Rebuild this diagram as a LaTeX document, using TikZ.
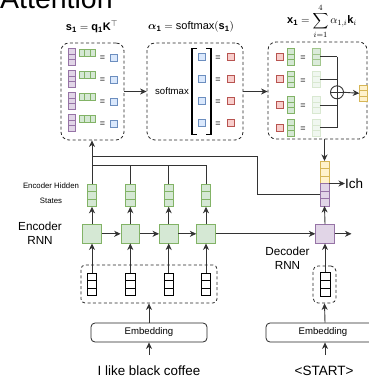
\documentclass[tikz,border=0pt]{standalone}
\usepackage{fontspec}
\setmainfont{Liberation Sans}
\usepackage{amsmath,amssymb,bm}
\usetikzlibrary{arrows.meta,calc}
\definecolor{grF}{HTML}{D5E8D4}\definecolor{grS}{HTML}{82B366}
\definecolor{puF}{HTML}{E1D5E7}\definecolor{puS}{HTML}{9673A6}
\definecolor{blF}{HTML}{DAE8FC}\definecolor{blS}{HTML}{6C8EBF}
\definecolor{reF}{HTML}{F8CECC}\definecolor{reS}{HTML}{B85450}
\definecolor{yeF}{HTML}{FFF2CC}\definecolor{yeS}{HTML}{D6B656}
\definecolor{lnC}{HTML}{333333}
% vertical vector: name, center, width, cell height, style
\newcommand\VV[5]{%
  \node[#5, inner sep=0pt, outer sep=0pt, minimum width=#3pt, minimum height=3*#4pt] (#1) at (#2) {};
  \draw[#5] ([yshift=-#4pt]#1.north west) -- ([yshift=-#4pt]#1.north east)
            ([yshift=#4pt]#1.south west) -- ([yshift=#4pt]#1.south east);}
% horizontal vector: name, center, cell width, height, style
\newcommand\HV[5]{%
  \node[#5, inner sep=0pt, outer sep=0pt, minimum width=3*#3pt, minimum height=#4pt] (#1) at (#2) {};
  \draw[#5] ([xshift=#3pt]#1.north west) -- ([xshift=#3pt]#1.south west)
            ([xshift=-#3pt]#1.north east) -- ([xshift=-#3pt]#1.south east);}
\tikzset{
  gv/.style={draw=grS, fill=grF, line width=0.8pt},
  gvfade/.style={draw=grS!30, fill=grF!35, line width=0.8pt},
  gvmid/.style={draw=grS!75, fill=grF!85, line width=0.8pt},
  pv/.style={draw=puS, fill=puF, line width=0.8pt},
  yv/.style={draw=yeS, fill=yeF, line width=0.8pt},
  wv/.style={draw=black, fill=white, line width=0.8pt},
  bsq/.style={draw=blS, fill=blF, line width=0.8pt, minimum size=7pt, inner sep=0pt},
  rsq/.style={draw=reS, fill=reF, line width=0.8pt, minimum size=7pt, inner sep=0pt},
  eqs/.style={font=\fontsize{9}{9}\selectfont, inner sep=0pt},
  dbox/.style={draw=black!85, dash pattern=on 3pt off 2.4pt, line width=0.8pt, rounded corners=8pt, inner sep=0pt},
  ebox/.style={draw=black!85, line width=0.8pt, rounded corners=4pt, inner sep=0pt, font=\fontsize{9.6}{10}\selectfont},
  ln/.style={draw=lnC, line width=0.9pt},
  arr/.style={ln, -{Stealth[length=6.5pt,width=6pt,inset=2pt]}},
  gbox/.style={draw=grS, fill=grF, line width=0.8pt, minimum size=18.5pt, inner sep=0pt},
  pbox/.style={draw=puS, fill=puF, line width=0.8pt, minimum size=18.5pt, inner sep=0pt},
}
\begin{document}
\begin{tikzpicture}[x=1pt,y=-1pt]
\useasboundingbox (0,0) rectangle (368,380);
% title
\node[anchor=base west, inner sep=0pt, font=\fontsize{28.5}{30}\selectfont] (title) at (0,9) {Attention};
% attention boxes
\node[dbox, minimum width=63pt, minimum height=97pt] (box1) at (92.5,91.5) {};
\node[dbox, minimum width=96pt, minimum height=97pt] (box2) at (195,91.5) {};
\node[dbox, minimum width=99pt, minimum height=97pt] (box3) at (317.5,90.5) {};
\node[font=\fontsize{11}{12}\selectfont] (lab1) at (92,27) {$\mathbf{s_1} = \mathbf{q_1}\mathbf{K}^{\top}$};
\node[font=\fontsize{11}{12}\selectfont] (lab2) at (191,27) {$\boldsymbol{\alpha}_{\mathbf{1}} = \mathrm{softmax}(\mathbf{s_1})$};
\node[font=\fontsize{11}{12}\selectfont] (lab3) at (322,21) {$\mathbf{x_1} = \displaystyle\sum_{i=1}^{4} \alpha_{1,i}\mathbf{k}_i$};
% box 1 rows
\foreach \r [count=\i] in {57,79,101,123}{
  \VV{q\i}{72,\r}{7.3}{5.6}{pv}
  \HV{k\i}{87.5,\r-4.4}{5.43}{6.7}{gv}
  \node[eqs] (eqa\i) at (102.5,\r+1.5) {=};
  \node[bsq] (s\i) at (113.7,\r+0.5) {};
}
% box 2
\node[font=\fontsize{9.6}{10}\selectfont, inner sep=0pt] (smx) at (172,91.5) {softmax};
\draw[line width=1.9pt, black] (197,48.5) -| (192,134.5) -- (197,134.5);
\draw[line width=1.9pt, black] (206,48.5) -| (211,134.5) -- (206,134.5);
\foreach \r [count=\i] in {57,79,101,123}{
  \node[bsq] (sb\i) at (202.3,\r) {};
  \node[eqs] (eqb\i) at (218,\r+1.5) {=};
  \node[rsq] (al\i) at (231,\r) {};
}
% box 3
\foreach \r/\st [count=\i] in {56.7/gvmid,79.3/gvfade,105/gvfade,127.7/gvfade}{
  \node[rsq] (ar\i) at (279.5,\r) {};
  \VV{kk\i}{291,\r}{6.7}{5.6}{gv}
  \node[eqs] (eqc\i) at (303,\r+1.5) {=};
  \VV{wk\i}{316.3,\r}{7.3}{5.6}{\st}
  \coordinate (bus\i) at (337,\r);
  \draw[ln] (wk\i.east) -- (bus\i);
}
\draw[ln] (bus1) -- (bus4);
\node[circle, draw=lnC, fill=white, line width=0.9pt, minimum size=13pt, inner sep=0pt] (sum) at (337,92.3) {};
\draw[ln] (sum.west) -- (sum.east) (sum.north) -- (sum.south);
\VV{xo}{363.3,93.3}{8}{5.6}{yv}
\draw[arr] (sum.east) -- (xo.west);
\draw[arr] (box1.east) -- (box2.west);
\draw[arr] (box2.east) -- (box2.east -| box3.west);
% encoder
\foreach \x [count=\i] in {92,130.3,168.7,206}{
  \VV{h\i}{\x,195.5}{9.5}{7.5}{gv}
  \node[gbox] (e\i) at (\x,233.8) {};
  \VV{v\i}{\x,284.3}{9.5}{7.5}{wv}
  \draw[arr] (e\i.north) -- (h\i.south);
  \draw[arr] (v\i.north) -- (e\i.south);
}
\foreach \i/\j in {1/2,2/3,3/4}{ \draw[arr] (e\i.east) -- (e\j.west); }
\node[dbox, rounded corners=4pt, minimum width=136pt, minimum height=38pt] (eemb) at (149,284) {};
\node[ebox, minimum width=116pt, minimum height=19pt] (E1) at (149,332.5) {Embedding};
\draw[arr] (E1.north) -- (eemb.south);
\coordinate (in1) at (149,355);
\draw[arr] (in1) -- (E1.south);
\node[font=\fontsize{13.4}{14}\selectfont, inner sep=0pt] (txt1) at (149,370.5) {I like black coffee};
% labels
\node[font=\fontsize{11.7}{13.5}\selectfont, align=center, inner sep=0pt] (encl) at (40,233.5) {Encoder\\RNN};
\node[font=\fontsize{7.8}{15}\selectfont, align=center, inner sep=0pt] (hidl) at (51,193.5) {Encoder Hidden\\States};
\node[font=\fontsize{11.7}{14}\selectfont, align=center, inner sep=0pt] (decl) at (287.5,258.5) {Decoder\\RNN};
% buses
\coordinate (busI) at (0,165);
\coordinate (busO) at (0,156);
\coordinate (cor) at (257,156);
\draw[arr] (h1.north) -- (h1.north |- box1.south);
\foreach \i in {2,3,4}{ \draw[ln] (h\i.north) -- (h\i.north |- busI); }
\draw[ln] (h1.north |- busI) -- (h4.north |- busI);
% decoder
\node[pbox] (d) at (325,233.8) {};
\VV{dy}{324.5,172.25}{9}{7.5}{yv}
\VV{dp}{324.5,194.75}{9}{7.5}{pv}
\draw[ln] (h1.north |- busO) -- (cor) |- (dp.west);
\draw[arr] (box3.south -| dy.north) -- (dy.north);
\draw[arr] (d.north) -- (dp.south);
\node[font=\fontsize{13.5}{14}\selectfont, inner sep=0pt, anchor=west] (ich) at (345,183.5) {Ich};
\draw[arr] (dy.south east) -- (ich.west);
\draw[arr] (e4.east) -- (d.west);
\coordinate (dout) at (351.5,233.8);
\draw[arr] (d.east) -- (dout);
\VV{dv}{325,284}{10}{8}{wv}
\node[dbox, rounded corners=5pt, minimum width=23pt, minimum height=37pt] (demb) at (324.5,284.5) {};
\draw[arr] (dv.north) -- (d.south);
\node[ebox, minimum width=118pt, minimum height=19pt] (E2) at (325,332.5) {};
\node[font=\fontsize{9.6}{10}\selectfont, inner sep=0pt] (E2t) at (323,332.5) {Embedding};
\draw[arr] (E2.north) -- (demb.south);
\coordinate (in2) at (325,355);
\draw[arr] (in2) -- (E2.south);
\node[font=\fontsize{13.5}{14}\selectfont, inner sep=0pt] (txt2) at (324,370.5) {<START>};
\end{tikzpicture}
\end{document}
